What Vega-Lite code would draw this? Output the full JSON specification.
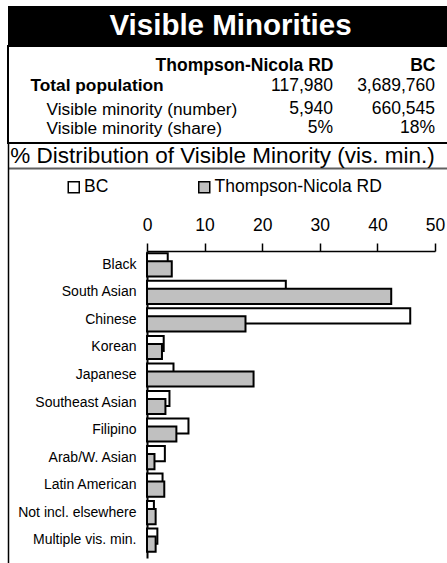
{
  "$schema": "https://vega.github.io/schema/vega-lite/v6.json",
  "padding": {"left": 7, "top": 6, "right": 0, "bottom": 0},
  "background": "white",
  "spacing": 0,
  "bounds": "flush",
  "config": {"font": "Liberation Sans", "view": {"stroke": null}},
  "datasets": {
    "bars": [
      {"group": "Black", "series": "BC", "value": 3.6},
      {"group": "Black", "series": "Thompson-Nicola RD", "value": 4.3},
      {"group": "South Asian", "series": "BC", "value": 24.1},
      {"group": "South Asian", "series": "Thompson-Nicola RD", "value": 42.4},
      {"group": "Chinese", "series": "BC", "value": 45.7},
      {"group": "Chinese", "series": "Thompson-Nicola RD", "value": 17.1},
      {"group": "Korean", "series": "BC", "value": 2.9},
      {"group": "Korean", "series": "Thompson-Nicola RD", "value": 2.6},
      {"group": "Japanese", "series": "BC", "value": 4.6},
      {"group": "Japanese", "series": "Thompson-Nicola RD", "value": 18.5},
      {"group": "Southeast Asian", "series": "BC", "value": 3.9},
      {"group": "Southeast Asian", "series": "Thompson-Nicola RD", "value": 3.2},
      {"group": "Filipino", "series": "BC", "value": 7.2},
      {"group": "Filipino", "series": "Thompson-Nicola RD", "value": 5.1},
      {"group": "Arab/W. Asian", "series": "BC", "value": 3.1},
      {"group": "Arab/W. Asian", "series": "Thompson-Nicola RD", "value": 1.3},
      {"group": "Latin American", "series": "BC", "value": 2.7},
      {"group": "Latin American", "series": "Thompson-Nicola RD", "value": 3.0},
      {"group": "Not incl. elsewhere", "series": "BC", "value": 1.2},
      {"group": "Not incl. elsewhere", "series": "Thompson-Nicola RD", "value": 1.5},
      {"group": "Multiple vis. min.", "series": "BC", "value": 1.8},
      {"group": "Multiple vis. min.", "series": "Thompson-Nicola RD", "value": 1.5}
    ],
    "table": [
      {"row": "Total population", "col": "Thompson-Nicola RD", "text": "117,980"},
      {"row": "Total population", "col": "BC", "text": "3,689,760"},
      {"row": "Visible minority (number)", "col": "Thompson-Nicola RD", "text": "5,940"},
      {"row": "Visible minority (number)", "col": "BC", "text": "660,545"},
      {"row": "Visible minority (share)", "col": "Thompson-Nicola RD", "text": "5%"},
      {"row": "Visible minority (share)", "col": "BC", "text": "18%"}
    ]
  },
  "vconcat": [
    {
      "width": 445,
      "height": 40,
      "view": {"fill": "black", "stroke": null},
      "data": {"values": [{"title": "Visible Minorities"}]},
      "mark": {"type": "text", "color": "white", "fontSize": 29.5, "fontWeight": "bold", "baseline": "middle"},
      "encoding": {"text": {"field": "title"}}
    },
    {
      "width": 445,
      "height": 97,
      "view": {"stroke": "black", "strokeWidth": 2},
      "data": {"name": "table"},
      "encoding": {
        "x": {
          "field": "col", "type": "nominal",
          "scale": {"type": "point", "domain": ["Thompson-Nicola RD", "BC"], "range": [325, 427], "padding": 0},
          "axis": {"orient": "top", "offset": -24, "domain": false, "ticks": false, "tickSize": 0, "labelPadding": 0, "labelAlign": "right", "labelBaseline": "alphabetic", "labelAngle": 0, "labelOverlap": false, "labelLimit": 300, "labelFontSize": 17.5, "labelFontWeight": "bold", "labelColor": "black", "grid": false, "title": null}
        },
        "y": {
          "field": "row", "type": "nominal",
          "scale": {"type": "point", "domain": ["Total population", "Visible minority (number)", "Visible minority (share)"], "range": [49.3, 87.3], "padding": 0},
          "axis": {
            "orient": "left", "offset": -22, "domain": false, "ticks": false, "tickSize": 0,
            "labelAlign": "left", "labelBaseline": "alphabetic", "labelOverlap": false, "labelLimit": 300,
            "labelFontSize": 17.3, "labelColor": "black",
            "labelFontWeight": {"condition": {"test": "datum.value === 'Total population'", "value": "bold"}, "value": "normal"},
            "labelPadding": {"condition": {"test": "datum.value === 'Total population'", "value": 0}, "value": -16},
            "labelOffset": {"condition": {"test": "datum.value === 'Total population'", "value": -4.6}, "value": 0},
            "grid": false, "title": null
          }
        },
        "text": {"field": "text"}
      },
      "layer": [
        {
          "transform": [{"filter": "datum.row === 'Total population'"}],
          "mark": {"type": "text", "align": "right", "baseline": "alphabetic", "fontSize": 17.5, "color": "black", "dy": -4.6}
        },
        {
          "transform": [{"filter": "datum.row !== 'Total population'"}],
          "mark": {"type": "text", "align": "right", "baseline": "alphabetic", "fontSize": 17.5, "color": "black"}
        }
      ]
    },
    {
      "width": 445,
      "height": 425,
      "title": {"text": "% Distribution of Visible Minority (vis. min.)", "fontSize": 22.5, "fontWeight": "normal", "color": "black", "anchor": "middle", "frame": "group", "offset": -42, "baseline": "alphabetic", "dx": -8},
      "layer": [
        {
          "data": {"name": "bars"},
          "encoding": {
            "x": {
              "field": "value", "type": "quantitative",
              "scale": {"domain": [0, 50], "range": [139, 427], "nice": false, "zero": true},
              "axis": {"orient": "top", "offset": -108, "values": [0, 10, 20, 30, 40, 50], "tickSize": 8, "tickColor": "black", "tickWidth": 1.5, "domainColor": "black", "domainWidth": 1.5, "labelFontSize": 17.5, "labelColor": "black", "labelPadding": 13, "labelBaseline": "alphabetic", "labelFlush": false, "grid": false, "title": null}
            },
            "y": {
              "field": "group", "type": "nominal", "sort": null,
              "scale": {"range": [108, 415], "paddingInner": 0.45, "paddingOuter": 0.3, "align": 0.38},
              "axis": {"orient": "left", "offset": -139, "ticks": false, "tickSize": 0, "domainColor": "black", "domainWidth": 2, "labelFontSize": 14, "labelColor": "black", "labelPadding": 11, "grid": false, "title": null}
            },
            "fill": {
              "field": "series", "type": "nominal",
              "scale": {"domain": ["BC", "Thompson-Nicola RD"], "range": ["#ffffff", "#c0c0c0"]},
              "legend": {"orient": "none", "legendX": 57, "legendY": 172, "direction": "horizontal", "title": null, "symbolType": "square", "symbolSize": 121, "symbolStrokeColor": "black", "symbolStrokeWidth": 1.5, "symbolOpacity": 1, "labelFontSize": 17.5, "labelColor": "black", "labelOffset": 1.5, "labelLimit": 300, "columnPadding": 86.5}
            }
          },
          "layer": [
            {
              "transform": [{"filter": "datum.series === 'BC'"}],
              "mark": {"type": "bar", "stroke": "black", "strokeWidth": 2, "yOffset": -4}
            },
            {
              "transform": [{"filter": "datum.series === 'Thompson-Nicola RD'"}],
              "mark": {"type": "bar", "stroke": "black", "strokeWidth": 2, "yOffset": 4}
            }
          ]
        },
        {
          "data": {"name": "bars"},
          "mark": {"type": "point", "opacity": 0},
          "encoding": {
            "x": {"field": "value", "type": "quantitative", "axis": {"orient": "top", "offset": -25, "domainColor": "#606060", "domainWidth": 2, "labels": false, "ticks": false, "grid": false, "title": null}},
            "y": {"field": "value", "type": "quantitative", "axis": {"orient": "left", "offset": 0, "domainColor": "black", "domainWidth": 1.5, "labels": false, "ticks": false, "grid": false, "title": null}}
          }
        }
      ],
      "resolve": {"scale": {"x": "independent", "y": "independent"}}
    }
  ]
}
